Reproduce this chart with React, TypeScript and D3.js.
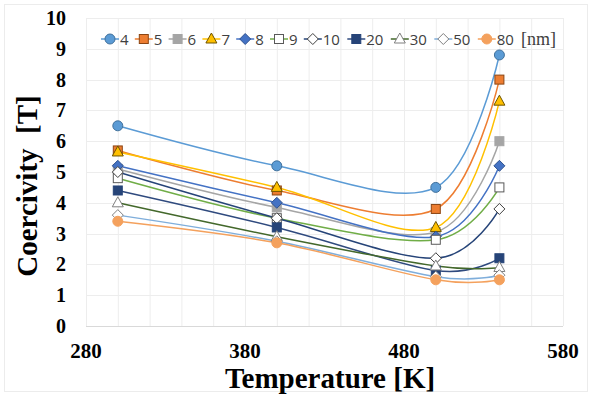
import React, { useEffect, useRef } from "react";
import * as d3 from "d3";

// temperatures [K] and coercivity [T] per particle size [nm]
const temps = [300, 400, 500, 540];
const sizes = ["4", "5", "6", "7", "8", "9", "10", "20", "30", "50", "80"];
const h4 = [6.5, 5.2, 4.5, 8.8];
const h5 = [5.7, 4.4, 3.8, 8.0];
const h6 = [5.1, 3.85, 3.05, 6.0];
const h7 = [5.65, 4.5, 3.2, 7.3];
const h8 = [5.2, 4.0, 2.9, 5.2];
const h9 = [4.8, 3.5, 2.8, 4.5];
const h10 = [5.0, 3.5, 2.2, 3.8];
const h20 = [4.4, 3.2, 1.8, 2.2];
const h30 = [4.0, 2.9, 1.95, 1.9];
const h50 = [3.6, 2.75, 1.6, 1.65];
const h80 = [3.4, 2.7, 1.5, 1.5];
const xTicks = [280, 380, 480, 580];
const yTicks = [0, 1, 2, 3, 4, 5, 6, 7, 8, 9, 10];

const styles = [
  { line: "#5B9BD5", fill: "#5B9BD5", stroke: "#41719C", shape: "circle" },
  { line: "#ED7D31", fill: "#ED7D31", stroke: "#8B4513", shape: "square" },
  { line: "#A5A5A5", fill: "#A5A5A5", stroke: "#A5A5A5", shape: "square" },
  { line: "#FFC000", fill: "#FFC000", stroke: "#6E5400", shape: "triangle" },
  { line: "#4472C4", fill: "#4472C4", stroke: "#2F528F", shape: "diamond" },
  { line: "#70AD47", fill: "#ffffff", stroke: "#595959", shape: "square" },
  { line: "#264478", fill: "#ffffff", stroke: "#404040", shape: "diamond" },
  { line: "#2F4A7E", fill: "#264478", stroke: "#264478", shape: "square" },
  { line: "#43682B", fill: "#ffffff", stroke: "#7F7F7F", shape: "triangle" },
  { line: "#7FAEDB", fill: "#ffffff", stroke: "#7F7F7F", shape: "diamond" },
  { line: "#F4A15D", fill: "#F4A15D", stroke: "#F4A15D", shape: "circle" },
];

const W = 592;
const H = 394;
const plot = { left: 86, right: 563, top: 18, bottom: 326 };

function drawMarker(g: any, shape: string, x: number, y: number, st: any) {
  let m;
  if (shape === "circle") {
    m = g.append("circle").attr("cx", x).attr("cy", y).attr("r", 5);
  } else if (shape === "square") {
    m = g.append("rect").attr("x", x - 4.5).attr("y", y - 4.5).attr("width", 9).attr("height", 9);
  } else if (shape === "triangle") {
    m = g.append("path").attr("d", `M${x},${y - 6}L${x + 5.5},${y + 4}L${x - 5.5},${y + 4}Z`);
  } else {
    m = g.append("path").attr("d", `M${x},${y - 5.5}L${x + 5.5},${y}L${x},${y + 5.5}L${x - 5.5},${y}Z`);
  }
  m.attr("fill", st.fill).attr("stroke", st.stroke).attr("stroke-width", 1);
}

const App = () => {
  const ref = useRef<SVGSVGElement>(null);

  useEffect(() => {
    document.body.style.margin = "0";
    const svg = d3.select(ref.current);
    svg.selectAll("*").remove();

    const data = [h4, h5, h6, h7, h8, h9, h10, h20, h30, h50, h80];

    const x = d3.scaleLinear().domain([280, 580]).range([plot.left, plot.right]);
    const y = d3.scaleLinear().domain([0, 10]).range([plot.bottom, plot.top]);

    svg.append("rect").attr("width", W).attr("height", H).attr("fill", "#fff");
    svg
      .append("rect")
      .attr("x", 4.5)
      .attr("y", 4.5)
      .attr("width", W - 9)
      .attr("height", H - 7)
      .attr("fill", "none")
      .attr("stroke", "#ececec");

    // grid
    const grid = svg.append("g");
    grid
      .selectAll("line.v")
      .data(d3.range(280, 581, 20))
      .enter()
      .append("line")
      .attr("x1", (d) => x(d) + 0.5)
      .attr("x2", (d) => x(d) + 0.5)
      .attr("y1", plot.top)
      .attr("y2", plot.bottom)
      .attr("stroke", "#ededed");
    grid
      .selectAll("line.h")
      .data(yTicks)
      .enter()
      .append("line")
      .attr("x1", plot.left)
      .attr("x2", plot.right)
      .attr("y1", (d) => Math.round(y(d)) + 0.5)
      .attr("y2", (d) => Math.round(y(d)) + 0.5)
      .attr("stroke", (d) => (d === 0 ? "#d9d9d9" : "#ededed"));

    // tick labels
    svg
      .append("g")
      .selectAll("text")
      .data(yTicks)
      .enter()
      .append("text")
      .attr("x", 66)
      .attr("y", (d) => y(d) + 7)
      .attr("text-anchor", "end")
      .attr("font-family", "Liberation Serif")
      .attr("font-weight", "bold")
      .attr("font-size", 20)
      .text((d) => d);

    svg
      .append("g")
      .selectAll("text")
      .data(xTicks)
      .enter()
      .append("text")
      .attr("x", (d) => x(d))
      .attr("y", 358)
      .attr("text-anchor", "middle")
      .attr("font-family", "Liberation Serif")
      .attr("font-weight", "bold")
      .attr("font-size", 21)
      .text((d) => d);

    svg
      .append("text")
      .attr("x", 330)
      .attr("y", 388)
      .attr("text-anchor", "middle")
      .attr("font-family", "Liberation Serif")
      .attr("font-weight", "bold")
      .attr("font-size", 29)
      .text("Temperature [K]");

    svg
      .append("text")
      .attr("transform", "translate(37,186) rotate(-90)")
      .attr("text-anchor", "middle")
      .attr("font-family", "Liberation Serif")
      .attr("font-weight", "bold")
      .attr("font-size", 29)
      .attr("xml:space", "preserve")
      .text("Coercivity  [T]");

    // series
    const line = d3
      .line<number>()
      .x((d, i) => x(temps[i]))
      .y((d) => y(d))
      .curve(d3.curveCardinal.tension(0));

    data.forEach((vals, si) => {
      svg
        .append("path")
        .attr("d", line(vals))
        .attr("fill", "none")
        .attr("stroke", styles[si].line)
        .attr("stroke-width", 1.5);
    });
    data.forEach((vals, si) => {
      const g = svg.append("g");
      vals.forEach((v, i) => drawMarker(g, styles[si].shape, x(temps[i]), y(v), styles[si]));
    });

    // legend
    const lg = svg.append("g");
    let lx = 110;
    sizes.forEach((s, i) => {
      const st = styles[i];
      lg.append("line")
        .attr("x1", lx - 9)
        .attr("x2", lx + 9)
        .attr("y1", 39)
        .attr("y2", 39)
        .attr("stroke", st.line)
        .attr("stroke-width", 1.5);
      drawMarker(lg, st.shape, lx, 39, st);
      lg.append("text")
        .attr("x", lx + 10)
        .attr("y", 44.5)
        .attr("font-family", "Open Sans")
        .attr("font-size", 15)
        .attr("fill", "#404040")
        .text(s);
      lx += s.length > 1 ? 43.5 : 33.8;
    });
    lg.append("text")
      .attr("x", 521)
      .attr("y", 45)
      .attr("font-family", "Liberation Serif")
      .attr("font-size", 18)
      .attr("fill", "#404040")
      .text("[nm]");
  }, []);

  return <svg ref={ref} width={W} height={H} style={{ display: "block" }} />;
};

export default App;
